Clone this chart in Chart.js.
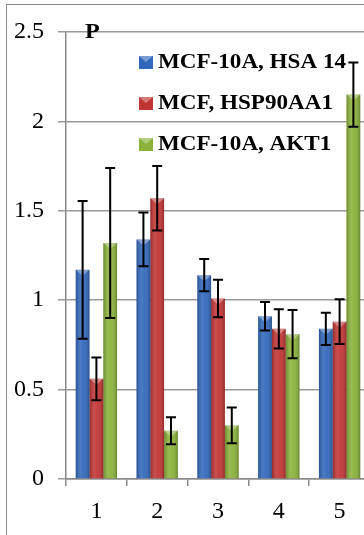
<!DOCTYPE html>
<html>
<head>
<meta charset="utf-8">
<script src="https://cdn.jsdelivr.net/npm/chart.js@4/dist/chart.umd.min.js"></script>
<style>
    html, body { margin: 0; padding: 0; background: #fff; overflow: hidden; }
    #wrap { position: relative; width: 364px; height: 535px; overflow: hidden; }
    #frame { position: absolute; left: 6px; top: 4px; width: 400px; height: 540px; border: 1.5px solid #8a8a8a; box-sizing: border-box; }
    #holder { position: absolute; left: 0; top: 0; width: 370px; height: 535px; }
</style>
</head>
<body>
<div id="wrap">
    <div id="frame"></div>
    <div id="holder"><canvas id="fold_chart"></canvas></div>
</div>
<script>

// values
const categories = ['1', '2', '3', '4', '5'];
const yTicks = [0, 0.5, 1, 1.5, 2, 2.5];

const hsa14 = [1.17, 1.34, 1.14, 0.91, 0.84];
const hsa14Err = [0.385, 0.15, 0.09, 0.08, 0.09];

const hsp90 = [0.56, 1.57, 1.01, 0.84, 0.88];
const hsp90Err = [0.12, 0.18, 0.105, 0.11, 0.125];

const akt1 = [1.32, 0.27, 0.30, 0.81, 2.15];
const akt1Err = [0.42, 0.075, 0.10, 0.135, 0.18];

const seriesNames = ['MCF-10A, HSA 14', 'MCF, HSP90AA1', 'MCF-10A, AKT1'];
const seriesColors = ['#3268bb', '#c23535', '#8ab23b'];

const serif = '"Liberation Serif", "Times New Roman", serif';

// little shine on each bar, like the office 3d bars
const barShine = {
    id: 'barShine',
    afterDatasetsDraw(chart) {
        const ctx = chart.ctx;
        chart.data.datasets.forEach((ds, i) => {
            chart.getDatasetMeta(i).data.forEach(bar => {
                const left = bar.x - bar.width / 2;
                const right = bar.x + bar.width / 2;
                const top = Math.min(bar.y, bar.base);
                const h = Math.abs(bar.base - bar.y);
                const g = ctx.createLinearGradient(left, 0, right, 0);
                g.addColorStop(0, 'rgba(0,0,0,0.22)');
                g.addColorStop(0.35, 'rgba(255,255,255,0.12)');
                g.addColorStop(0.6, 'rgba(255,255,255,0.05)');
                g.addColorStop(1, 'rgba(0,0,0,0.25)');
                ctx.save();
                ctx.fillStyle = g;
                ctx.fillRect(left, top, bar.width, h);
                // bevel on top
                ctx.fillStyle = 'rgba(255,255,255,0.35)';
                ctx.beginPath();
                ctx.moveTo(left, top);
                ctx.lineTo(right, top);
                ctx.lineTo(bar.x, top + Math.min(6, h));
                ctx.closePath();
                ctx.fill();
                ctx.restore();
            });
        });
    }
};

// error bars from the err arrays
const errorBars = {
    id: 'errorBars',
    afterDatasetsDraw(chart) {
        const ctx = chart.ctx;
        const yScale = chart.scales.y;
        ctx.save();
        ctx.strokeStyle = '#000';
        ctx.lineWidth = 2;
        chart.data.datasets.forEach((ds, i) => {
            chart.getDatasetMeta(i).data.forEach((bar, j) => {
                const v = ds.data[j];
                const e = ds.errors[j];
                const yHi = yScale.getPixelForValue(v + e);
                const yLo = yScale.getPixelForValue(v - e);
                ctx.beginPath();
                ctx.moveTo(bar.x, yHi);
                ctx.lineTo(bar.x, yLo);
                ctx.moveTo(bar.x - 5, yHi);
                ctx.lineTo(bar.x + 5, yHi);
                ctx.moveTo(bar.x - 5, yLo);
                ctx.lineTo(bar.x + 5, yLo);
                ctx.stroke();
            });
        });
        ctx.restore();
    }
};

// legend sits inside the plot, plus the stray "P"
// (text a bit wider than normal, the original looks stretched)
const insideLegend = {
    id: 'insideLegend',
    afterDraw(chart) {
        const ctx = chart.ctx;
        ctx.save();
        ctx.font = 'bold 21px ' + serif;
        ctx.textBaseline = 'middle';
        chart.data.datasets.forEach((ds, i) => {
            const cy = 62 + i * 41;
            ctx.fillStyle = seriesColors[i];
            ctx.fillRect(139, cy - 6, 14, 13);
            ctx.fillStyle = 'rgba(255,255,255,0.35)';
            ctx.beginPath();
            ctx.moveTo(139, cy - 6);
            ctx.lineTo(153, cy - 6);
            ctx.lineTo(146, cy);
            ctx.closePath();
            ctx.fill();
            ctx.save();
            ctx.translate(158, cy + 1);
            ctx.scale(1.1, 1);
            ctx.fillStyle = '#000';
            ctx.fillText(ds.label, 0, 0);
            ctx.restore();
        });
        ctx.font = 'bold 22px ' + serif;
        ctx.textBaseline = 'alphabetic';
        ctx.fillStyle = '#000';
        ctx.translate(85, 38);
        ctx.scale(1.1, 1);
        ctx.fillText('P', 0, 0);
        ctx.restore();
    }
};

function fold_chart() {

    const data = {
        labels: categories,
        datasets: [{
            label: seriesNames[0],
            data: hsa14,
            errors: hsa14Err,
            backgroundColor: seriesColors[0]
        }, {
            label: seriesNames[1],
            data: hsp90,
            errors: hsp90Err,
            backgroundColor: seriesColors[1]
        }, {
            label: seriesNames[2],
            data: akt1,
            errors: akt1Err,
            backgroundColor: seriesColors[2]
        }]
    };

    const config = {
        type: 'bar',
        data: data,
        options: {
            responsive: true,
            maintainAspectRatio: false,
            animation: false,
            datasets: {
                bar: {
                    categoryPercentage: 0.68,
                    barPercentage: 1.0
                }
            },
            layout: {
                padding: { left: 0, right: 0, top: 32, bottom: 0 }
            },
            plugins: {
                legend: { display: false },
                tooltip: { enabled: false }
            },
            scales: {
                x: {
                    grid: {
                        offset: true,
                        drawOnChartArea: false,
                        drawTicks: true,
                        tickLength: 7,
                        color: '#8a8a8a',
                        lineWidth: 1.5
                    },
                    border: { color: '#8a8a8a', width: 1.5 },
                    ticks: {
                        color: '#000',
                        padding: 11,
                        font: { family: serif, size: 24 }
                    },
                    afterFit(scale) { scale.height = 56; }
                },
                y: {
                    min: 0,
                    max: 2.5,
                    afterBuildTicks(scale) {
                        scale.ticks = yTicks.map(v => ({ value: v }));
                    },
                    grid: {
                        color: '#9a9a9a',
                        lineWidth: 1.5,
                        tickLength: 8
                    },
                    border: { color: '#8a8a8a', width: 1.5 },
                    ticks: {
                        color: '#000',
                        padding: 14,
                        font: { family: serif, size: 24 },
                        callback: v => String(v)
                    },
                    afterFit(scale) { scale.width = 66; }
                }
            }
        },
        plugins: [barShine, errorBars, insideLegend]
    };

    const myChart = new Chart(
        document.getElementById('fold_chart'),
        config
    );
}

fold_chart();

</script>
</body>
</html>
